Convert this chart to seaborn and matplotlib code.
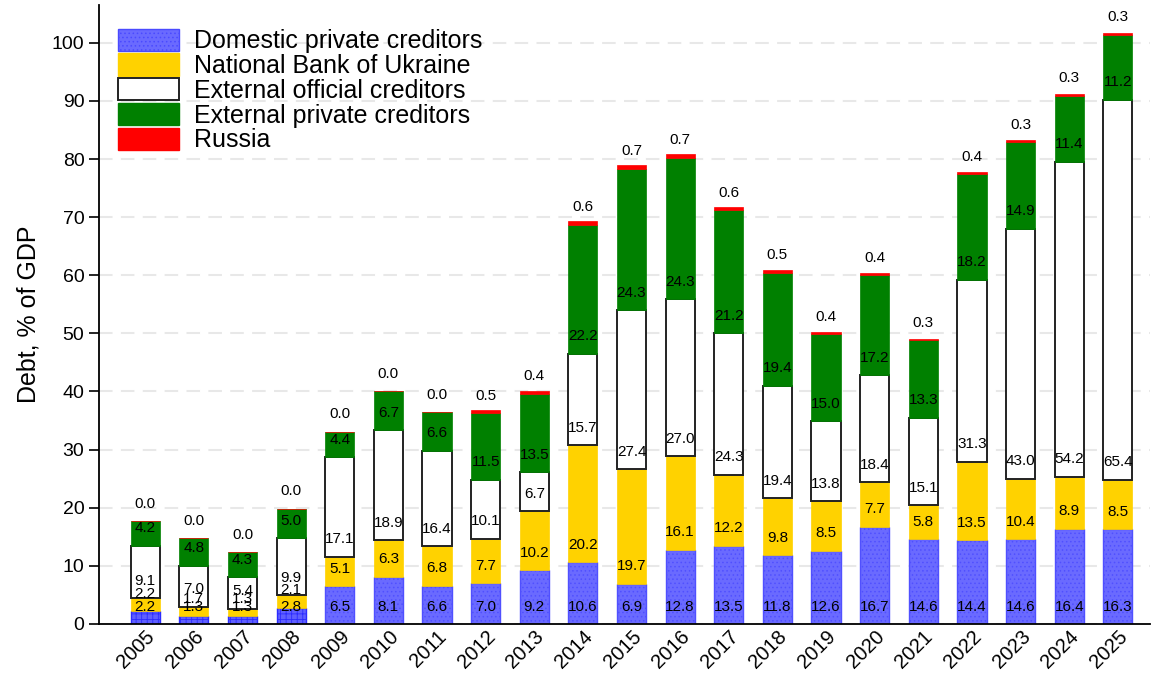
"""
Ukraine public debt by creditor, % of GDP (stacked bars, 2005-2025).
"""

import matplotlib

matplotlib.use("Agg")
import matplotlib.pyplot as plt
import numpy as np
import seaborn as sns
from matplotlib.patches import Patch

years = [str(y) for y in range(2005, 2026)]

domestic = [2.2, 1.3, 1.3, 2.8, 6.5, 8.1, 6.6, 7.0, 9.2, 10.6, 6.9,
            12.8, 13.5, 11.8, 12.6, 16.7, 14.6, 14.4, 14.6, 16.4, 16.3]
nbu = [2.2, 1.7, 1.3, 2.1, 5.1, 6.3, 6.8, 7.7, 10.2, 20.2, 19.7,
       16.1, 12.2, 9.8, 8.5, 7.7, 5.8, 13.5, 10.4, 8.9, 8.5]
ext_official = [9.1, 7.0, 5.4, 9.9, 17.1, 18.9, 16.4, 10.1, 6.7, 15.7, 27.4,
                27.0, 24.3, 19.4, 13.8, 18.4, 15.1, 31.3, 43.0, 54.2, 65.4]
ext_private = [4.2, 4.8, 4.3, 5.0, 4.4, 6.7, 6.6, 11.5, 13.5, 22.2, 24.3,
               24.3, 21.2, 19.4, 15.0, 17.2, 13.3, 18.2, 14.9, 11.4, 11.2]
russia = [0.0, 0.0, 0.0, 0.0, 0.0, 0.0, 0.0, 0.5, 0.4, 0.6, 0.7,
          0.7, 0.6, 0.5, 0.4, 0.4, 0.3, 0.4, 0.3, 0.3, 0.3]

series_names = [
    "Domestic private creditors",
    "National Bank of Ukraine",
    "External official creditors",
    "External private creditors",
    "Russia",
]

sns.set_style("ticks")
plt.rcParams["font.family"] = ["Liberation Sans", "DejaVu Sans"]
plt.rcParams["hatch.linewidth"] = 0.6
plt.rcParams["text.color"] = "black"
plt.rcParams["axes.labelcolor"] = "black"
plt.rcParams["xtick.color"] = "black"
plt.rcParams["ytick.color"] = "black"
plt.rcParams["axes.edgecolor"] = "black"

fig = plt.figure(figsize=(11.54, 6.75), dpi=100)
ax = fig.add_axes([0.0858, 0.0756, 0.9107, 0.917])

x = np.arange(len(years))
width = 0.6
bottom = np.zeros(len(years))

styles = [
    dict(facecolor="#6a6aff", edgecolor="#3a3aff", linewidth=1.0),
    dict(facecolor="#ffd200", edgecolor="#ffd200", linewidth=0.5),
    dict(facecolor="white", edgecolor="#222222", linewidth=1.4),
    dict(facecolor="#008000", edgecolor="#008000", linewidth=0.5),
    dict(facecolor="#ff0000", edgecolor="#ff0000", linewidth=0.5),
]

for values, style in zip([domestic, nbu, ext_official, ext_private, russia], styles):
    vals = np.array(values)
    bars = ax.bar(x, vals, width, bottom=bottom, zorder=2, **style)
    if style["facecolor"] == "#6a6aff":
        # early years drawn with a coarser grid pattern
        for i, b in enumerate(bars):
            if int(years[i]) <= 2008:
                b.set_hatch("+++")
                b.set_facecolor("#5f5fff")
                b.set_edgecolor("#2b2bff")
            else:
                b.set_hatch("....")
                b.set_edgecolor("#5050ff")
    # labels sit a fixed distance above each segment's base
    for xi, base, v in zip(x, bottom, vals):
        ax.text(xi, base + 3.0, f"{v:.1f}", ha="center", va="center",
                fontsize=11, color="black", zorder=3)
    bottom = bottom + vals

ax.set_xlim(-0.95, 20.66)
ax.set_ylim(0, 106.5)
ax.set_yticks(range(0, 101, 10))
ax.set_xticks(x)
ax.set_xticklabels(years, rotation=45, ha="right", va="top",
                   rotation_mode="anchor", fontsize=14.5)
ax.tick_params(axis="x", length=0, pad=2)
ax.tick_params(axis="y", length=7, width=1.2, labelsize=14, direction="out")
ax.set_ylabel("Debt, % of GDP", fontsize=18, labelpad=8)

ax.yaxis.grid(True, color="#e8e8e8", linestyle=(0, (6.5, 4)), linewidth=1.5, zorder=0)
ax.set_axisbelow(True)

sns.despine(ax=ax)
ax.spines["left"].set_linewidth(1.3)
ax.spines["bottom"].set_linewidth(1.3)

handles = [
    Patch(facecolor="#6a6aff", edgecolor="#4a4aff", hatch="...."),
    Patch(facecolor="#ffd200", edgecolor="#ffd200"),
    Patch(facecolor="white", edgecolor="#222222", linewidth=1.4),
    Patch(facecolor="#008000", edgecolor="#008000"),
    Patch(facecolor="#ff0000", edgecolor="#ff0000"),
]
ax.legend(handles, series_names, loc="upper left", bbox_to_anchor=(0.018, 0.962),
          frameon=False, fontsize=18, handlelength=2.45, handleheight=1.0,
          labelspacing=0.0, handletextpad=0.6, borderpad=0, borderaxespad=0)

fig.savefig("out.png", dpi=100)
